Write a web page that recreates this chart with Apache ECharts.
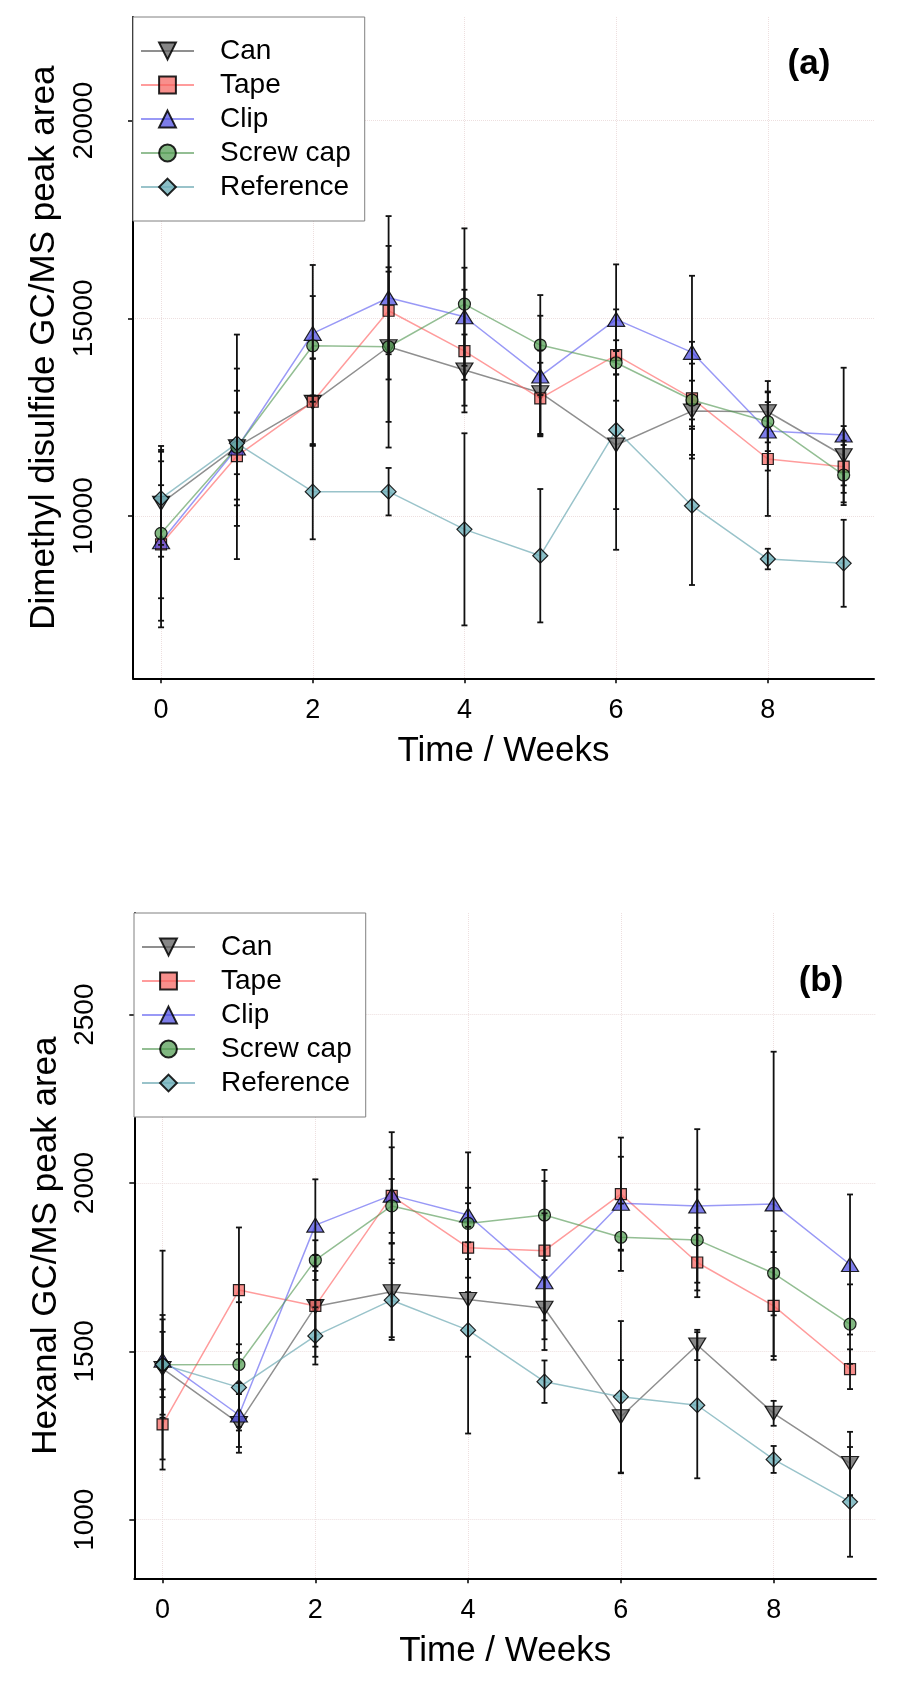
<!DOCTYPE html>
<html><head><meta charset="utf-8">
<script src="https://cdn.jsdelivr.net/npm/echarts@6/dist/echarts.min.js"></script>
<style>html,body{margin:0;padding:0;background:#fff}#c{width:898px;height:1684px}</style>
</head><body><div id="c"></div>
<script>
// ---------- data ----------
const weeks = [0, 1, 2, 3, 4, 5, 6, 7, 8, 9];
const seriesNames = ['Can', 'Tape', 'Clip', 'Screw cap', 'Reference'];
const xTicks = [0, 2, 4, 6, 8];
const yTicksA = [10000, 15000, 20000];
const yTicksB = [1000, 1500, 2000, 2500];

// Panel (a) Dimethyl disulfide: means and error (±)
const dmdsCan     = [10321, 11750, 12875, 14282, 13692, 13119, 11796, 12655, 12638, 11525];
const dmdsCanErr  = [1350, 2840, 1100, 2550, 900, 1070, 2650, 1200, 776, 750];
const dmdsTape    = [9284, 11517, 12890, 15192, 14173, 12977, 14072, 12977, 11442, 11247];
const dmdsTapeErr = [2100, 1100, 1100, 1100, 1551, 900, 1155, 1430, 1440, 660];
const dmdsClip    = [9350, 11720, 14620, 15521, 15041, 13541, 14975, 14140, 12150, 12048];
const dmdsClipErr = [1430, 1450, 1730, 2066, 1240, 1525, 1390, 1937, 1000, 1703];
const dmdsScrew   = [9562, 11740, 14307, 14282, 15361, 14325, 13877, 12934, 12385, 11037];
const dmdsScrewErr= [2210, 1990, 1257, 1900, 1915, 1264, 300, 490, 743, 760];
const dmdsRef     = [10448, 11838, 10616, 10616, 9663, 8996, 12175, 10261, 8912, 8804];
const dmdsRefErr  = [1178, 780, 1205, 600, 2430, 1687, 2000, 2006, 260, 1100];

// Panel (b) Hexanal: means and error (±)
const hexCan      = [1449, 1286, 1633, 1677, 1654, 1628, 1306, 1519, 1316, 1167];
const hexCanErr   = [146, 87, 119, 143, 170, 92, 168, 45, 37, 94];
const hexTape     = [1283, 1682, 1635, 1962, 1808, 1799, 1967, 1764, 1635, 1447];
const hexTapeErr  = [104, 186, 151, 189, 132, 207, 168, 103, 160, 59];
const hexClip     = [1474, 1311, 1875, 1964, 1905, 1707, 1940, 1932, 1938, 1758];
const hexClipErr  = [325, 95, 136, 142, 186, 203, 138, 228, 452, 208];
const hexScrew    = [1460, 1461, 1771, 1932, 1880, 1905, 1839, 1831, 1732, 1581];
const hexScrewErr = [148, 185, 59, 80, 106, 134, 100, 150, 125, 118];
const hexRef      = [1461, 1393, 1546, 1652, 1563, 1410, 1365, 1340, 1179, 1053];
const hexRefErr   = [97, 128, 85, 110, 307, 63, 225, 217, 40, 163];

// ---------- styles ----------
const FF = '"Liberation Sans", Arial, sans-serif';
const styles = {
  'Can':       {symbol: 'triangle', rotate: 180, size: [17, 14], line: 'rgba(100,100,100,0.72)', fill: 'rgba(95,95,95,0.75)'},
  'Tape':      {symbol: 'rect', rotate: 0, size: [11, 11], line: 'rgba(255,95,95,0.62)', fill: 'rgba(245,100,95,0.72)'},
  'Clip':      {symbol: 'triangle', rotate: 0, size: [17, 14], line: 'rgba(90,90,240,0.62)', fill: 'rgba(75,75,225,0.72)'},
  'Screw cap': {symbol: 'circle', rotate: 0, size: 12, line: 'rgba(80,150,80,0.62)', fill: 'rgba(80,155,80,0.72)'},
  'Reference': {symbol: 'diamond', rotate: 0, size: [15, 15], line: 'rgba(110,170,180,0.7)', fill: 'rgba(110,175,185,0.8)'}
};

const panels = [
  {means: [dmdsCan, dmdsTape, dmdsClip, dmdsScrew, dmdsRef],
   errs: [dmdsCanErr, dmdsTapeErr, dmdsClipErr, dmdsScrewErr, dmdsRefErr]},
  {means: [hexCan, hexTape, hexClip, hexScrew, hexRef],
   errs: [hexCanErr, hexTapeErr, hexClipErr, hexScrewErr, hexRefErr]}
];

function renderErr(params, api) {
  const x = api.value(0), lo = api.value(1), hi = api.value(2);
  const pHi = api.coord([x, hi]), pLo = api.coord([x, lo]);
  const cw = 3;
  const st = {stroke: '#111', lineWidth: 1.8};
  return {type: 'group', children: [
    {type: 'line', shape: {x1: pHi[0], y1: pHi[1], x2: pLo[0], y2: pLo[1]}, style: st},
    {type: 'line', shape: {x1: pHi[0] - cw, y1: pHi[1], x2: pHi[0] + cw, y2: pHi[1]}, style: st},
    {type: 'line', shape: {x1: pLo[0] - cw, y1: pLo[1], x2: pLo[0] + cw, y2: pLo[1]}, style: st}
  ]};
}

const series = [];
panels.forEach((p, pi) => {
  seriesNames.forEach((name, si) => {
    const s = styles[name];
    series.push({
      type: 'line', name: name, xAxisIndex: pi, yAxisIndex: pi,
      data: weeks.map((w, i) => [w, p.means[si][i]]),
      symbol: s.symbol, symbolRotate: s.rotate, symbolSize: s.size,
      lineStyle: {color: s.line, width: 1.5},
      itemStyle: {color: s.fill, borderColor: 'rgba(0,0,0,0.85)', borderWidth: 1.2},
      emphasis: {disabled: true}, z: 2, silent: true
    });
  });
});
panels.forEach((p, pi) => {
  seriesNames.forEach((name, si) => {
    series.push({
      type: 'custom', name: 'err' + pi + '_' + si, xAxisIndex: pi, yAxisIndex: pi,
      data: weeks.map((w, i) => [w, p.means[si][i] - p.errs[si][i], p.means[si][i] + p.errs[si][i]]),
      encode: {x: 0, y: [1, 2]}, renderItem: renderErr, z: 3, silent: true
    });
  });
});

const gridLine = {show: true, lineStyle: {color: '#eddfdf', type: 'dotted', width: 1}};
function xAxis(gi, max) {
  return {
    type: 'value', gridIndex: gi, min: -0.37, max: max,
    axisLine: {show: true, onZero: false, lineStyle: {color: '#000', width: 2}},
    axisTick: {show: true, customValues: xTicks, length: 5, lineStyle: {color: '#000', width: 1.5}},
    axisLabel: {customValues: xTicks, fontSize: 27, color: '#000', margin: 19, fontFamily: FF,
                formatter: v => String(v)},
    splitLine: gridLine,
    name: 'Time / Weeks', nameLocation: 'middle', nameGap: 56,
    nameTextStyle: {fontSize: 35, color: '#000', fontFamily: FF}
  };
}
function yAxis(gi, min, max, ticks, name) {
  return {
    type: 'value', gridIndex: gi, min: min, max: max,
    axisLine: {show: true, onZero: false, lineStyle: {color: '#000', width: 2}},
    axisTick: {show: true, customValues: ticks, length: 5, lineStyle: {color: '#000', width: 1.5}},
    axisLabel: {customValues: ticks, rotate: 90, fontSize: 28, color: '#000', margin: 35, fontFamily: FF,
                formatter: v => String(v)},
    splitLine: gridLine,
    name: name, nameLocation: 'middle', nameRotate: 90, nameGap: 70,
    nameTextStyle: {fontSize: 35, color: '#000', fontFamily: FF}
  };
}
function legend(left, top) {
  return {
    data: seriesNames, orient: 'vertical', left: left, top: top,
    padding: [20, 14, 20, 7], itemGap: 6, itemWidth: 53, itemHeight: 21,
    backgroundColor: '#fff', borderColor: '#808080', borderWidth: 1, borderRadius: 0,
    selectedMode: false,
    textStyle: {fontSize: 28, color: '#000', fontFamily: FF, lineHeight: 28, padding: [0, 0, 0, 21]}
  };
}

const option = {
  animation: false,
  backgroundColor: '#fff',
  grid: [
    {left: 133, top: 17, width: 741, height: 661.3},
    {left: 134.3, top: 913, width: 741.7, height: 665.3}
  ],
  xAxis: [xAxis(0, 9.4), xAxis(1, 9.34)],
  yAxis: [
    yAxis(0, 5895, 22623, yTicksA, 'Dimethyl disulfide GC/MS peak area'),
    yAxis(1, 826, 2802, yTicksB, 'Hexanal GC/MS peak area')
  ],
  legend: [legend(133, 17), legend(134, 913)],
  graphic: [
    {type: 'text', x: 809, y: 64, z: 10, style: {text: '(a)', fontSize: 35, fontWeight: 'bold', fontFamily: FF, fill: '#000', align: 'center', verticalAlign: 'middle'}},
    {type: 'text', x: 821, y: 981, z: 10, style: {text: '(b)', fontSize: 35, fontWeight: 'bold', fontFamily: FF, fill: '#000', align: 'center', verticalAlign: 'middle'}}
  ],
  series: series
};
const chart = echarts.init(document.getElementById('c'), null, {renderer: 'canvas'});
chart.setOption(option);
</script></body></html>
